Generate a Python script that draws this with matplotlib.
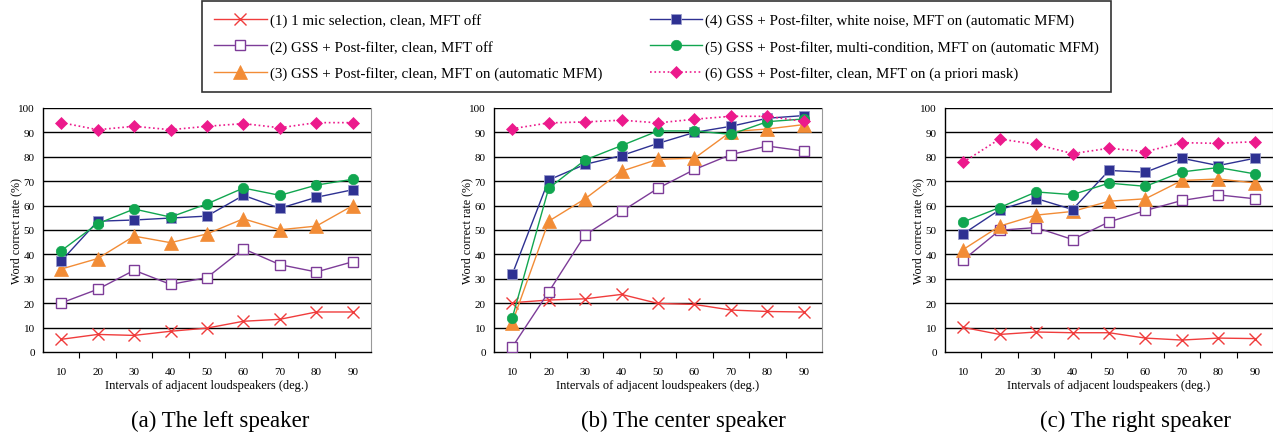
import numpy as np
import matplotlib
matplotlib.use('Agg')
import matplotlib.pyplot as plt
from matplotlib.ticker import MultipleLocator, FixedLocator

plt.rcParams['font.family'] = ['Liberation Serif', 'DejaVu Serif']

intervals = [10, 20, 30, 40, 50, 60, 70, 80, 90]

labels = ['(1) 1 mic selection, clean, MFT off',
          '(2) GSS + Post-filter, clean, MFT off',
          '(3) GSS + Post-filter, clean, MFT on (automatic MFM)',
          '(4) GSS + Post-filter, white noise, MFT on (automatic MFM)',
          '(5) GSS + Post-filter, multi-condition, MFT on (automatic MFM)',
          '(6) GSS + Post-filter, clean, MFT on (a priori mask)']

# word correct rate (%) per speaker, series (1)..(6)
left_speaker = [
    [5.2, 7.2, 6.8, 8.5, 9.8, 12.6, 13.4, 16.4, 16.4],
    [20.1, 25.7, 33.5, 27.7, 30.5, 42.3, 35.8, 32.8, 37.0],
    [34.0, 38.3, 47.5, 44.8, 48.4, 54.6, 50.1, 51.6, 60.0],
    [37.3, 53.6, 54.1, 54.9, 55.7, 64.2, 58.9, 63.4, 66.5],
    [41.5, 52.6, 58.6, 55.3, 60.7, 67.2, 64.2, 68.4, 70.8],
    [94.0, 91.1, 92.5, 91.1, 92.5, 93.6, 91.9, 94.0, 94.0],
]
center_speaker = [
    [20.2, 21.3, 21.8, 23.6, 19.9, 19.5, 17.2, 16.6, 16.4],
    [2.0, 24.6, 48.0, 57.6, 67.1, 74.8, 80.9, 84.4, 82.4],
    [12.0, 53.6, 62.8, 74.1, 79.0, 79.4, 90.3, 91.4, 93.2],
    [31.8, 70.5, 76.9, 80.5, 85.5, 90.0, 92.5, 95.8, 96.9],
    [13.9, 67.1, 78.7, 84.6, 90.6, 90.6, 89.2, 94.4, 95.5],
    [91.5, 93.9, 94.3, 95.0, 93.9, 95.4, 96.6, 96.6, 94.5],
]
right_speaker = [
    [10.1, 7.2, 8.2, 7.9, 7.9, 5.7, 4.9, 5.7, 5.5],
    [37.7, 49.9, 51.0, 46.1, 53.3, 58.0, 62.1, 64.4, 62.8],
    [42.0, 51.6, 56.1, 57.6, 61.8, 62.8, 70.3, 70.9, 69.3],
    [48.4, 58.3, 62.9, 58.4, 74.4, 73.7, 79.4, 76.4, 79.4],
    [53.3, 59.2, 65.6, 64.5, 69.2, 67.9, 73.8, 75.6, 73.0],
    [77.8, 87.3, 85.1, 81.3, 83.5, 82.1, 85.8, 85.5, 86.2],
]
captions = ['(a) The left speaker', '(b) The center speaker', '(c) The right speaker']

styles = [
    dict(color='#f03c3c', marker='x', ms=8, mew=1.0, mfc='none', ls='-', lw=1.0),
    dict(color='#7d3c98', marker='s', ms=7, mew=1.0, mfc='white', ls='-', lw=1.0),
    dict(color='#f28c36', marker='^', ms=10, mew=0.5, mfc='#f28c36', ls='-', lw=1.0),
    dict(color='#2e3192', marker='s', ms=7.5, mew=0.6, mfc='#2e3192', mec='#9a9ccc', ls='-', lw=1.0),
    dict(color='#11a650', marker='o', ms=7.5, mew=0.5, mfc='#11a650', ls='-', lw=1.0),
    dict(color='#ec1a8c', marker='D', ms=6, mew=0.5, mfc='#ec1a8c', ls=':', lw=1.2),
]

W, H = 1273, 435
fig = plt.figure(figsize=(W / 100, H / 100), dpi=100)

lefts = [43, 494, 945]
cap_x = [220, 683, 1135]
x = np.arange(1, len(intervals) + 1)
handles = []
for k, (data, cap) in enumerate(zip([left_speaker, center_speaker, right_speaker], captions)):
    ax = fig.add_axes([lefts[k] / W, 1 - 353 / H, 328 / W, 244 / H])
    for yy in range(10, 101, 10):
        ax.axhline(yy, color='black', lw=1.0, zorder=1)
    hs = []
    for s, vals in enumerate(data):
        h, = ax.plot(x, vals, zorder=3 + s, **styles[s])
        hs.append(h)
    handles = hs
    ax.set_xlim(0.5, 9.5)
    ax.set_ylim(0, 100)
    ax.yaxis.set_major_locator(MultipleLocator(10))
    ax.set_xticks(x)
    ax.set_xticklabels([str(v) for v in intervals])
    ax.xaxis.set_minor_locator(FixedLocator(np.arange(1.5, 9.5, 1)))
    ax.tick_params(axis='x', which='major', length=0, pad=11, labelsize=8)
    ax.tick_params(axis='x', which='minor', length=4, direction='out', width=0.8)
    ax.tick_params(axis='y', length=0, pad=6, labelsize=8)
    ax.spines['top'].set_visible(False)
    ax.spines['right'].set_color('#999999')
    ax.spines['left'].set_linewidth(1.0)
    ax.spines['bottom'].set_linewidth(1.0)
    ax.set_ylabel('Word correct rate (%)', fontsize=8.7, labelpad=-3)
    ax.set_xlabel('Intervals of adjacent loudspeakers (deg.)', fontsize=9, labelpad=2)
    fig.text(cap_x[k] / W, 1 - 421 / H, cap, ha='center', va='center', fontsize=16.5)

leg = fig.legend(handles, labels, loc='upper left', bbox_to_anchor=(202 / W, 1 - 2 / H),
                 borderaxespad=0, ncol=2, fontsize=10.8, frameon=True, fancybox=False,
                 edgecolor='black', handlelength=3.5, columnspacing=3.2,
                 labelspacing=0.85, borderpad=0.8, handletextpad=0.2)
leg.get_frame().set_linewidth(1.2)

fig.savefig('out.png', dpi=100)
